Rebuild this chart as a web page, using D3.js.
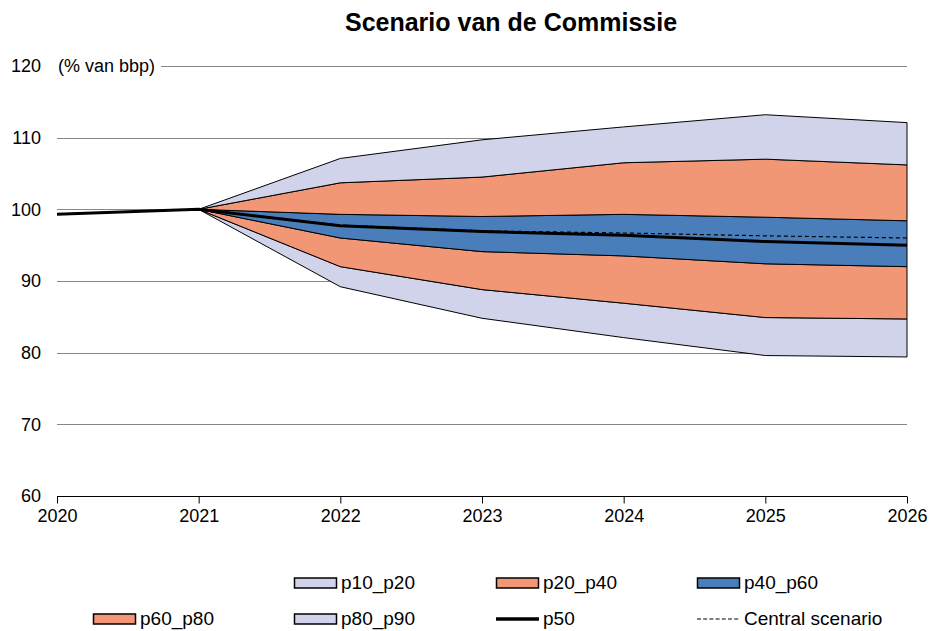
<!DOCTYPE html>
<meta charset="utf-8">
<style>
  body {
    margin: 0;
    background: #fff;
  }

  text {
    font-family: "Liberation Sans", Arial, sans-serif;
    fill: #000;
  }

  .grid line {
    stroke: #868686;
    stroke-width: 1;
  }

  .band {
    stroke: #000;
    stroke-width: 1;
  }
</style>

<body>
  <div id="chart"></div>

  <script src="https://d3js.org/d3.v7.min.js"></script>
  <script>
    // data
    var years = [2020, 2021, 2022, 2023, 2024, 2025, 2026];
    var p10 = [99.3, 100, 89.2, 84.8, 82.1, 79.6, 79.4];
    var p20 = [99.3, 100, 92.0, 88.8, 86.9, 84.9, 84.7];
    var p40 = [99.3, 100, 96.0, 94.1, 93.5, 92.4, 92.0];
    var p50 = [99.3, 100, 97.7, 96.9, 96.4, 95.5, 95.0];
    var p60 = [99.3, 100, 99.3, 99.0, 99.3, 98.9, 98.4];
    var p80 = [99.3, 100, 103.7, 104.5, 106.5, 107.0, 106.2];
    var p90 = [99.3, 100, 107.1, 109.7, 111.5, 113.2, 112.1];
    var central = [99.3, 100, 97.8, 97.0, 96.7, 96.3, 96.0];
    var yTicks = [60, 70, 80, 90, 100, 110, 120];

    var lavender = "#d0d3ea",
      salmon = "#f19775",
      blue = "#4a7ebb";

    var bands = [
      { name: "p10_p20", lo: p10, hi: p20, color: lavender },
      { name: "p20_p40", lo: p20, hi: p40, color: salmon },
      { name: "p40_p60", lo: p40, hi: p60, color: blue },
      { name: "p60_p80", lo: p60, hi: p80, color: salmon },
      { name: "p80_p90", lo: p80, hi: p90, color: lavender }
    ];

    var width = 930,
      height = 631;

    var x = d3.scaleLinear()
      .domain([2020, 2026])
      .range([57, 907]);

    var y = d3.scaleLinear()
      .domain([60, 120])
      .range([496, 66]);

    var svg = d3.select("#chart")
      .append("svg")
      .attr("width", width)
      .attr("height", height);

    // title
    svg.append("text")
      .attr("x", 511)
      .attr("y", 31)
      .attr("text-anchor", "middle")
      .style("font-size", "25px")
      .style("font-weight", "bold")
      .text("Scenario van de Commissie");

    // horizontal gridlines
    svg.append("g")
      .attr("class", "grid")
      .selectAll("line")
      .data(yTicks.filter(function(d) { return d > 60; }))
      .enter()
      .append("line")
      .attr("x1", x(2020))
      .attr("x2", x(2026))
      .attr("y1", function(d) { return Math.round(y(d)) + 0.5; })
      .attr("y2", function(d) { return Math.round(y(d)) + 0.5; });

    // y labels
    svg.append("g")
      .selectAll("text")
      .data(yTicks)
      .enter()
      .append("text")
      .attr("x", 41)
      .attr("y", function(d) { return y(d); })
      .attr("dy", "0.35em")
      .attr("text-anchor", "end")
      .style("font-size", "18px")
      .text(function(d) { return d; });

    // unit label sits on top of the 120 gridline, with a white backing
    var unitG = svg.append("g");
    var unitBg = unitG.append("rect").attr("fill", "#fff");
    var unit = unitG.append("text")
      .attr("x", 58)
      .attr("y", y(120))
      .attr("dy", "0.35em")
      .style("font-size", "18px")
      .text("(% van bbp)");
    var bb = unit.node().getBBox();
    unitBg
      .attr("x", bb.x - 2)
      .attr("y", bb.y)
      .attr("width", bb.width + 8)
      .attr("height", bb.height);

    // fan bands
    bands.forEach(function(b) {
      var area = d3.area()
        .x(function(d, i) { return x(years[i]); })
        .y0(function(d, i) { return y(b.lo[i]); })
        .y1(function(d, i) { return y(b.hi[i]); });
      svg.append("path")
        .datum(years)
        .attr("class", "band")
        .attr("fill", b.color)
        .attr("d", area);
    });

    var line = d3.line()
      .x(function(d, i) { return x(years[i]); })
      .y(function(d) { return y(d); });

    // median
    svg.append("path")
      .datum(p50)
      .attr("fill", "none")
      .attr("stroke", "#000")
      .attr("stroke-width", 3)
      .attr("d", line);

    // central scenario
    svg.append("path")
      .datum(central)
      .attr("fill", "none")
      .attr("stroke", "#000")
      .attr("stroke-width", 1.2)
      .attr("stroke-dasharray", "4,3")
      .attr("d", line);

    // x axis
    var xAxis = d3.axisBottom(x)
      .tickValues(years)
      .tickFormat(d3.format("d"))
      .tickSize(7)
      .tickPadding(6);

    var gx = svg.append("g")
      .attr("transform", "translate(0," + (Math.round(y(60)) + 0.5) + ")")
      .call(xAxis);
    gx.select(".domain").attr("d", "M" + x(2020) + ",0H" + x(2026));
    gx.selectAll(".tick line").attr("stroke", "#000");
    gx.selectAll("text")
      .style("font-size", "18px")
      .style("font-family", "Liberation Sans, Arial, sans-serif");

    // legend
    var legendItems = [
      { name: "p10_p20", type: "box", color: lavender, x: 294, y: 583 },
      { name: "p20_p40", type: "box", color: salmon, x: 496, y: 583 },
      { name: "p40_p60", type: "box", color: blue, x: 697, y: 583 },
      { name: "p60_p80", type: "box", color: salmon, x: 93, y: 619 },
      { name: "p80_p90", type: "box", color: lavender, x: 294, y: 619 },
      { name: "p50", type: "line", x: 496, y: 619 },
      { name: "Central scenario", type: "dash", x: 697, y: 619 }
    ];

    var lg = svg.append("g")
      .selectAll("g")
      .data(legendItems)
      .enter()
      .append("g")
      .attr("transform", function(d) { return "translate(" + d.x + "," + d.y + ")"; });

    lg.filter(function(d) { return d.type === "box"; })
      .append("rect")
      .attr("x", 0.5)
      .attr("y", -5)
      .attr("width", 42)
      .attr("height", 10)
      .attr("fill", function(d) { return d.color; })
      .attr("stroke", "#000")
      .attr("stroke-width", 1.5);

    lg.filter(function(d) { return d.type === "line"; })
      .append("line")
      .attr("x1", 0)
      .attr("x2", 43)
      .attr("stroke", "#000")
      .attr("stroke-width", 3.5);

    lg.filter(function(d) { return d.type === "dash"; })
      .append("line")
      .attr("x1", 0)
      .attr("x2", 43)
      .attr("stroke", "#000")
      .attr("stroke-width", 1.2)
      .attr("stroke-dasharray", "4,2.2");

    lg.append("text")
      .attr("x", 47)
      .attr("dy", "0.32em")
      .style("font-size", "19px")
      .text(function(d) { return d.name; });
  </script>
</body>
